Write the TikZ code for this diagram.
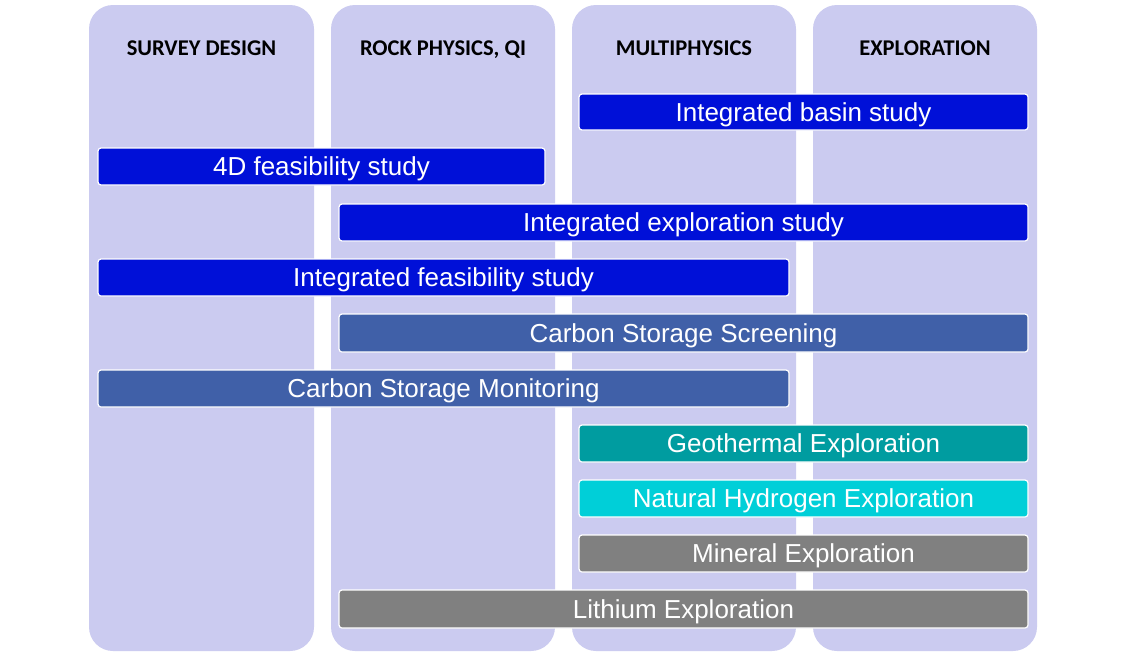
\documentclass[tikz,border=0pt]{standalone}
\usepackage{fontspec}
\setmainfont{Liberation Sans}
\newfontfamily\hdfont{Carlito}
\definecolor{colfill}{HTML}{CBCBF0}
\definecolor{cblue}{HTML}{0010D8}
\definecolor{csteel}{HTML}{4060A8}
\definecolor{cteal}{HTML}{009CA0}
\definecolor{ccyan}{HTML}{00CFD8}
\definecolor{cgray}{HTML}{808080}
\tikzset{
  colbox/.style={fill=colfill, draw=none, rounded corners=24pt},
  hdr/.style={font=\hdfont\bfseries\fontsize{22.5}{26}\selectfont, text=black, anchor=base, inner sep=0pt},
  bar/.style={draw=white, line width=1.2pt, rounded corners=3pt},
  bartext/.style={text=white, font=\fontsize{26}{30}\selectfont, inner sep=0pt, anchor=base},
}
\begin{document}
\begin{tikzpicture}[x=1pt,y=-1pt]
\useasboundingbox (0,0) rectangle (1130,656);
\fill[white] (0,0) rectangle (1130,656);
% columns
\path[colbox] (89,5) rectangle (314,651);
\path[colbox] (331,5) rectangle (555,651);
\path[colbox] (572,5) rectangle (796,651);
\path[colbox] (813,5) rectangle (1037,651);
\node[hdr] (h1) at (201.5,55) {SURVEY DESIGN};
\node[hdr] (h2) at (443,55) {ROCK PHYSICS, QI};
\node[hdr] (h3) at (684,55) {MULTIPHYSICS};
\node[hdr] (h4) at (925,55) {EXPLORATION};
% bars
\draw[bar, fill=cblue] (579,94) rectangle (1028,130);
\node[bartext] (b1) at (803.5,121) {Integrated basin study};
\draw[bar, fill=cblue] (98,148) rectangle (545,185);
\node[bartext] (b2) at (321.5,175.5) {4D feasibility study};
\draw[bar, fill=cblue] (339,204) rectangle (1028,241);
\node[bartext] (b3) at (683.5,231.5) {Integrated exploration study};
\draw[bar, fill=cblue] (98,259) rectangle (789,296);
\node[bartext] (b4) at (443.5,286.5) {Integrated feasibility study};
\draw[bar, fill=csteel] (339,314) rectangle (1028,352);
\node[bartext] (b5) at (683.5,342) {Carbon Storage Screening};
\draw[bar, fill=csteel] (98,370) rectangle (789,407);
\node[bartext] (b6) at (443.5,397.5) {Carbon Storage Monitoring};
\draw[bar, fill=cteal] (579,425) rectangle (1028,462);
\node[bartext] (b7) at (803.5,452.5) {Geothermal Exploration};
\draw[bar, fill=ccyan] (579,480) rectangle (1028,517);
\node[bartext] (b8) at (803.5,507.5) {Natural Hydrogen Exploration};
\draw[bar, fill=cgray] (579,535) rectangle (1028,572);
\node[bartext] (b9) at (803.5,562.5) {Mineral Exploration};
\draw[bar, fill=cgray] (339,590) rectangle (1028,628);
\node[bartext] (b10) at (683.5,618) {Lithium Exploration};
\end{tikzpicture}
\end{document}
